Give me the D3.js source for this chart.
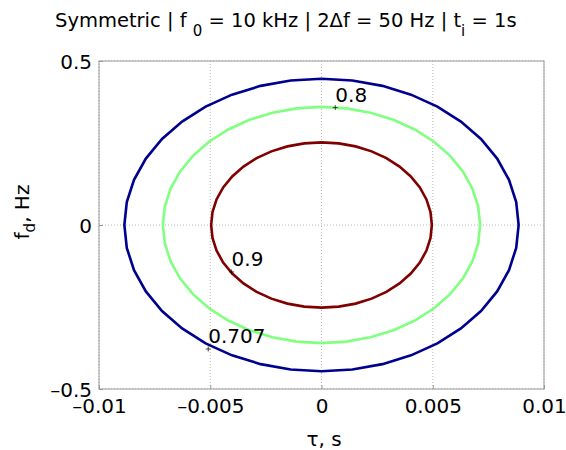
<!DOCTYPE html>
<html>
<head>
<meta charset="utf-8">
<script src="https://cdn.jsdelivr.net/npm/d3@7"></script>
<style>
  body { margin: 0; background: #fff; }
  text { font-family: "DejaVu Sans", "Liberation Sans", sans-serif; fill: #000; }
</style>
</head>
<body>
<div class="chart"></div>
<script>
// contour levels and the half-widths / half-heights
var levels = [0.707, 0.8, 0.9];
var levelColors = [`#00008f`, `#80ff80`, `#800000`];
var halfTau = [0.00886, 0.00713, 0.00496];
var halfFd = [0.446, 0.360, 0.252];
// clabel anchor points
var labelTau = [-0.00509, 0.00062, -0.00404];
var labelFd = [-0.378, 0.358, -0.143];

var xTicks = [-0.01, -0.005, 0, 0.005, 0.01];
var xTickLabels = [`–0.01`, `–0.005`, `0`, `0.005`, `0.01`];
var yTicks = [-0.5, 0, 0.5];
var yTickLabels = [`–0.5`, `0`, `0.5`];

var margin = {top: 61, bottom: 61, left: 99, right: 22};
var fullWidth = 566, fullHeight = 450;
var width = fullWidth - margin.left - margin.right;
var height = fullHeight - margin.top - margin.bottom;
var fontSize = `20px`;

var root = d3.select(`.chart`)
    .append(`svg`)
    .attr(`width`, fullWidth)
    .attr(`height`, fullHeight);

var svg = root.append(`g`)
    .attr(`transform`, `translate(${margin.left},${margin.top})`);

var xScale = d3.scaleLinear().domain([-0.01, 0.01]).range([0, width]);
var yScale = d3.scaleLinear().domain([-0.5, 0.5]).range([height, 0]);

// dotted grid
svg.selectAll(`.gx`).data(xTicks).enter().append(`line`)
    .attr(`x1`, d => xScale(d)).attr(`x2`, d => xScale(d))
    .attr(`y1`, 0).attr(`y2`, height)
    .style(`stroke`, `#bbb`).style(`stroke-width`, 1)
    .style(`stroke-dasharray`, `1,2`);
svg.selectAll(`.gy`).data(yTicks).enter().append(`line`)
    .attr(`y1`, d => yScale(d)).attr(`y2`, d => yScale(d))
    .attr(`x1`, 0).attr(`x2`, width)
    .style(`stroke`, `#bbb`).style(`stroke-width`, 1)
    .style(`stroke-dasharray`, `1,2`);

// axes (inward ticks like matlab)
var xAxis = d3.axisBottom(xScale).tickValues(xTicks)
    .tickFormat((d, i) => xTickLabels[i]).tickSizeInner(-4).tickSizeOuter(0).tickPadding(13);
var yAxis = d3.axisLeft(yScale).tickValues(yTicks)
    .tickFormat((d, i) => yTickLabels[i]).tickSizeInner(-4).tickSizeOuter(0).tickPadding(7);

var gx = svg.append(`g`).attr(`transform`, `translate(0,${height})`).call(xAxis);
var gy = svg.append(`g`).call(yAxis);
[gx, gy].forEach(g => {
    g.select(`.domain`).remove();
    g.selectAll(`line`).style(`stroke`, `#999`);
    g.selectAll(`text`).style(`font-size`, fontSize).style(`font-family`, `"DejaVu Sans", sans-serif`);
});
gx.selectAll(`text`).attr(`dy`, `0.55em`);
gy.selectAll(`text`).attr(`dy`, `0.36em`);

// box
svg.append(`rect`)
    .attr(`width`, width).attr(`height`, height)
    .style(`fill`, `none`).style(`stroke`, `#999`).style(`stroke-width`, 1);

// contour ellipses
var line = d3.line()
    .x(d => xScale(d[0]))
    .y(d => yScale(d[1]))
    .curve(d3.curveLinearClosed);

var angles = d3.range(0, 2 * Math.PI, Math.PI / 20);
svg.selectAll(`.contour`)
    .data(levels)
    .enter()
    .append(`path`)
    .attr(`class`, `contour`)
    .attr(`d`, (d, i) => line(angles.map(a => [halfTau[i] * Math.cos(a), halfFd[i] * Math.sin(a)])))
    .style(`fill`, `none`)
    .style(`stroke`, (d, i) => levelColors[i])
    .style(`stroke-width`, 2.6);

// contour labels
var labs = svg.selectAll(`.clab`)
    .data(levels)
    .enter()
    .append(`g`)
    .attr(`class`, `clab`)
    .attr(`transform`, (d, i) => `translate(${xScale(labelTau[i])},${yScale(labelFd[i])})`);
labs.append(`path`)
    .attr(`d`, `M-2.5,0H2.5M0,-2.5V2.5`)
    .style(`stroke`, `#000`).style(`stroke-width`, 0.7);
labs.append(`text`)
    .attr(`x`, 0).attr(`y`, -6)
    .style(`font-size`, fontSize)
    .text(d => d);

// title
var title = root.append(`text`)
    .attr(`x`, 55).attr(`y`, 27)
    .style(`font-size`, `19.5px`);
title.append(`tspan`).text(`Symmetric | f `);
title.append(`tspan`).attr(`dy`, 9).style(`font-size`, `15px`).text(`0`);
title.append(`tspan`).attr(`dy`, -9).text(` = 10 kHz | 2Δf = 50 Hz | t`);
title.append(`tspan`).attr(`dy`, 9).style(`font-size`, `15px`).text(`i`);
title.append(`tspan`).attr(`dy`, -9).text(` = 1s`);

// axis labels
root.append(`text`)
    .attr(`x`, 324).attr(`y`, 446)
    .style(`text-anchor`, `middle`)
    .style(`font-size`, fontSize)
    .text(`τ, s`);

var yl = root.append(`text`)
    .attr(`transform`, `translate(29,212) rotate(-90)`)
    .style(`text-anchor`, `middle`)
    .style(`font-size`, fontSize);
yl.append(`tspan`).text(`f`);
yl.append(`tspan`).attr(`dy`, 6).style(`font-size`, `15px`).text(`d`);
yl.append(`tspan`).attr(`dy`, -6).text(`, Hz`);
</script>
</body>
</html>
